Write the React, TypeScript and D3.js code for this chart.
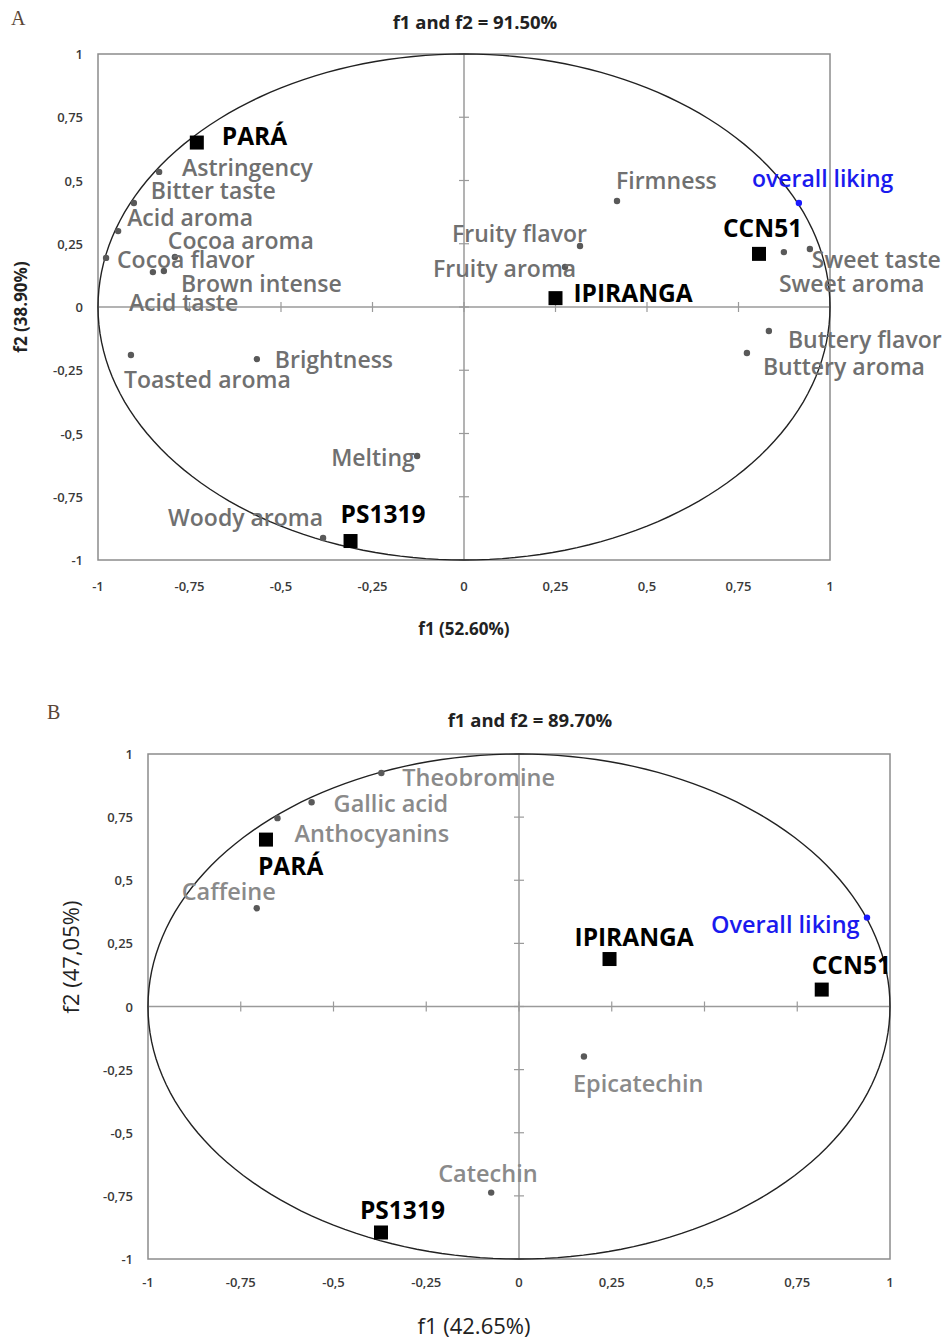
import React from "react";
import * as d3 from "d3";

const tickValues = [-1, -0.75, -0.5, -0.25, 0, 0.25, 0.5, 0.75, 1];
const tickLabels = ["-1", "-0,75", "-0,5", "-0,25", "0", "0,25", "0,5", "0,75", "1"];

// ---------- Panel A: sensory attributes ----------
const titleA = "f1 and f2 = 91.50%";
const xTitleA = "f1 (52.60%)";
const yTitleA = "f2 (38.90%)";
const obsNamesA = ["PARÁ", "IPIRANGA", "CCN51", "PS1319"];
const obsF1A = [-0.73, 0.25, 0.806, -0.31];
const obsF2A = [0.65, 0.035, 0.21, -0.925];
const varNamesA = [
  "Astringency", "Bitter taste", "Acid aroma", "Cocoa aroma", "Cocoa flavor", "Brown intense",
  "Acid taste", "Firmness", "overall liking", "Fruity flavor", "Fruity aroma", "Sweet taste",
  "Sweet aroma", "Buttery flavor", "Buttery aroma", "Brightness", "Toasted aroma", "Melting",
  "Woody aroma",
];
const varF1A = [-0.833, -0.902, -0.945, -0.79, -0.978, -0.82, -0.85, 0.418, 0.915, 0.317, 0.276, 0.945, 0.874, 0.833, 0.773, -0.566, -0.91, -0.128, -0.385];
const varF2A = [0.534, 0.411, 0.3, 0.198, 0.194, 0.142, 0.138, 0.419, 0.411, 0.241, 0.158, 0.229, 0.217, -0.095, -0.182, -0.206, -0.19, -0.589, -0.913];
const highlightA = ["overall liking"];

// ---------- Panel B: chemical compounds ----------
const titleB = "f1 and f2 = 89.70%";
const xTitleB = "f1 (42.65%)";
const yTitleB = "f2 (47,05%)";
const obsNamesB = ["PARÁ", "IPIRANGA", "CCN51", "PS1319"];
const obsF1B = [-0.682, 0.244, 0.816, -0.372];
const obsF2B = [0.661, 0.188, 0.067, -0.895];
const varNamesB = ["Theobromine", "Gallic acid", "Anthocyanins", "Caffeine", "Overall liking", "Epicatechin", "Catechin"];
const varF1B = [-0.371, -0.559, -0.651, -0.707, 0.938, 0.175, -0.075];
const varF2B = [0.925, 0.809, 0.746, 0.389, 0.352, -0.198, -0.737];
const highlightB = ["Overall liking"];

// ---------- label placement (pixel offsets from the marker) ----------
const obsOffsetsA: [number, number][] = [[25, -7], [18, -6], [-36, -26], [-10, -28]];
const varOffsetsA: [number, number][] = [
  [23, -5], [17, -13], [9, -14], [-7, -17], [11, 1], [17, 12], [-24, 30], [-1, -21], [-47, -25],
  [-128, -13], [-132, 1], [2, 10], [-5, 31], [19, 8], [16, 13], [18, 0], [-7, 24], [-86, 1], [-155, -21],
];
const obsOffsetsB: [number, number][] = [[-8, 26], [-35, -23], [-10, -25], [-21, -23]];
const varOffsetsB: [number, number][] = [[21, 4], [22, 1], [17, 15], [-75, -17], [-156, 6], [-11, 27], [-53, -20]];

const FONT = "'Open Sans', 'Noto Sans', sans-serif";

type PanelProps = {
  letter: string;
  letterPos: [number, number];
  title: string;
  titlePos: [number, number];
  xTitle: string;
  yTitle: string;
  xTitlePos: [number, number];
  yTitlePos: [number, number];
  axisTitleBold: boolean;
  axisTitleSize: number;
  xRange: [number, number];
  yRange: [number, number];
  obsNames: string[];
  obsF1: number[];
  obsF2: number[];
  obsOffsets: [number, number][];
  varNames: string[];
  varF1: number[];
  varF2: number[];
  varOffsets: [number, number][];
  highlight: string[];
  varColor: string;
  varSize: number;
  obsSize: number;
  xTickGap: number;
};

function Panel(p: PanelProps) {
  const x = d3.scaleLinear().domain([-1, 1]).range(p.xRange);
  const y = d3.scaleLinear().domain([-1, 1]).range(p.yRange);
  const [xl, xr] = p.xRange;
  const [yb, yt] = p.yRange;
  const cx = x(0);
  const cy = y(0);
  const ellipse = d3.range(0, 361, 2).map((a) => {
    const t = (a * Math.PI) / 180;
    return [x(Math.cos(t)), y(Math.sin(t))] as [number, number];
  });
  const line = d3.line();
  return (
    <g fontFamily={FONT}>
      <text x={p.letterPos[0]} y={p.letterPos[1]} fontFamily="'Liberation Serif', 'DejaVu Serif', serif" fontSize={20} fill="#5a4636">
        {p.letter}
      </text>
      <text x={p.titlePos[0]} y={p.titlePos[1]} textAnchor="middle" fontSize={18.5} fontWeight={700} fill="#222">
        {p.title}
      </text>
      {/* plot frame */}
      <rect x={xl} y={yt} width={xr - xl} height={yb - yt} fill="none" stroke="#8c8c8c" strokeWidth={1.5} />
      {/* zero axes */}
      <line x1={xl} x2={xr} y1={cy} y2={cy} stroke="#9a9a9a" strokeWidth={1.5} />
      <line x1={cx} x2={cx} y1={yt} y2={yb} stroke="#9a9a9a" strokeWidth={1.5} />
      {tickValues.map((v, i) => (
        <g key={"t" + i}>
          <line x1={x(v)} x2={x(v)} y1={cy - 5} y2={cy + 5} stroke="#9a9a9a" strokeWidth={1.2} />
          <line x1={cx - 5} x2={cx + 5} y1={y(v)} y2={y(v)} stroke="#9a9a9a" strokeWidth={1.2} />
          <text x={x(v)} y={yb + p.xTickGap} textAnchor="middle" dominantBaseline="central" fontSize={13} fontWeight={600} fill="#3a3a3a">
            {tickLabels[i]}
          </text>
          <text x={xl - 15} y={y(v)} textAnchor="end" dominantBaseline="central" fontSize={13} fontWeight={600} fill="#3a3a3a">
            {tickLabels[i]}
          </text>
        </g>
      ))}
      {/* correlation circle */}
      <path d={line(ellipse) || ""} fill="none" stroke="#222" strokeWidth={1.4} />
      {/* variables */}
      {p.varNames.map((n, i) => {
        const hl = p.highlight.includes(n);
        const px = x(p.varF1[i]);
        const py = y(p.varF2[i]);
        return (
          <g key={"v" + i}>
            <circle cx={px} cy={py} r={3.2} fill={hl ? "#1a1aff" : "#595959"} />
            <text
              x={px + p.varOffsets[i][0]}
              y={py + p.varOffsets[i][1]}
              dominantBaseline="central"
              fontSize={p.varSize}
              fontWeight={600}
              fill={hl ? "#1a1aee" : p.varColor}
            >
              {n}
            </text>
          </g>
        );
      })}
      {/* observations */}
      {p.obsNames.map((n, i) => {
        const px = x(p.obsF1[i]);
        const py = y(p.obsF2[i]);
        return (
          <g key={"o" + i}>
            <rect x={px - 7} y={py - 7} width={14} height={14} fill="#000" />
            <text
              x={px + p.obsOffsets[i][0]}
              y={py + p.obsOffsets[i][1]}
              dominantBaseline="central"
              fontSize={p.obsSize}
              fontWeight={700}
              fill="#000"
            >
              {n}
            </text>
          </g>
        );
      })}
      <text
        x={p.xTitlePos[0]}
        y={p.xTitlePos[1]}
        textAnchor="middle"
        dominantBaseline="central"
        fontSize={p.axisTitleSize}
        fontWeight={p.axisTitleBold ? 700 : 400}
        fill="#222"
      >
        {p.xTitle}
      </text>
      <text
        transform={`translate(${p.yTitlePos[0]},${p.yTitlePos[1]}) rotate(-90)`}
        textAnchor="middle"
        dominantBaseline="central"
        fontSize={p.axisTitleSize}
        fontWeight={p.axisTitleBold ? 700 : 400}
        fill="#222"
      >
        {p.yTitle}
      </text>
    </g>
  );
}

export default function App() {
  return (
    <svg width={950} height={1339} style={{ position: "absolute", left: 0, top: 0, background: "#fff" }}>
      <rect width={950} height={1339} fill="#fff" />
      <Panel
        letter="A"
        letterPos={[11, 25]}
        title={titleA}
        titlePos={[475, 29]}
        xTitle={xTitleA}
        yTitle={yTitleA}
        xTitlePos={[464, 628]}
        yTitlePos={[20, 307]}
        axisTitleBold={true}
        axisTitleSize={17}
        xRange={[98, 830]}
        yRange={[560, 54]}
        obsNames={obsNamesA}
        obsF1={obsF1A}
        obsF2={obsF2A}
        obsOffsets={obsOffsetsA}
        varNames={varNamesA}
        varF1={varF1A}
        varF2={varF2A}
        varOffsets={varOffsetsA}
        highlight={highlightA}
        varColor="#707070"
        varSize={23}
        obsSize={24.5}
        xTickGap={26}
      />
      <Panel
        letter="B"
        letterPos={[47, 719]}
        title={titleB}
        titlePos={[530, 727]}
        xTitle={xTitleB}
        yTitle={yTitleB}
        xTitlePos={[474, 1325]}
        yTitlePos={[70, 957]}
        axisTitleBold={false}
        axisTitleSize={22}
        xRange={[148, 890]}
        yRange={[1259, 754]}
        obsNames={obsNamesB}
        obsF1={obsF1B}
        obsF2={obsF2B}
        obsOffsets={obsOffsetsB}
        varNames={varNamesB}
        varF1={varF1B}
        varF2={varF2B}
        varOffsets={varOffsetsB}
        highlight={highlightB}
        varColor="#8a8a8a"
        varSize={23.5}
        obsSize={24.5}
        xTickGap={23}
      />
    </svg>
  );
}
